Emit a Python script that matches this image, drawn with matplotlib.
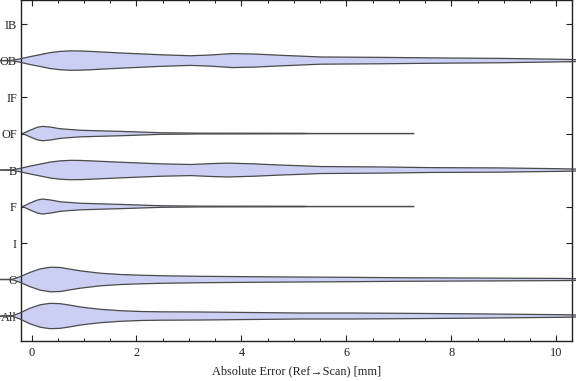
import matplotlib
matplotlib.use("Agg")
import matplotlib.pyplot as plt
from matplotlib.ticker import MultipleLocator

plt.rcParams['font.family'] = ['Liberation Serif', 'DejaVu Serif']

# category order from bottom to top
categories = ["All", "O", "I", "F", "B", "OF", "IF", "OB", "IB"]

# violin outlines: error values [mm] and half widths (in category spacing units)
ob_x = [-0.59, -0.36, -0.21, -0.02, 0.17, 0.36, 0.55, 0.74, 0.93, 1.12, 1.70, 2.46,
        3.03, 3.41, 3.83, 4.27, 4.74, 5.12, 5.5, 6.65, 7.6, 8.93, 10.08, 10.84]
ob_w = [0, 0.008, 0.049, 0.11, 0.164, 0.219, 0.252, 0.266, 0.263, 0.252, 0.208, 0.159,
        0.132, 0.153, 0.192, 0.178, 0.145, 0.123, 0.099, 0.088, 0.074, 0.06, 0.036, 0.014]

b_x = [-0.59, -0.36, -0.21, -0.02, 0.17, 0.36, 0.55, 0.74, 0.93, 1.12, 1.70, 2.46,
       3.03, 3.41, 3.75, 4.27, 4.74, 5.12, 5.5, 6.65, 7.6, 8.93, 10.08, 10.84]
b_w = [0, 0.008, 0.049, 0.11, 0.164, 0.219, 0.252, 0.266, 0.263, 0.252, 0.214, 0.17,
       0.152, 0.176, 0.19, 0.168, 0.137, 0.118, 0.096, 0.085, 0.066, 0.058, 0.036, 0.014]

of_x = [-0.17, -0.02, 0.11, 0.21, 0.36, 0.55, 0.93, 1.70, 2.46, 3.22, 5.18, 5.31, 7.28]
of_w = [0, 0.096, 0.173, 0.197, 0.178, 0.131, 0.09, 0.06, 0.022, 0.011, 0.008, 0.001, 0.001]

f_x = [-0.17, -0.02, 0.11, 0.21, 0.36, 0.55, 0.93, 1.70, 2.46, 3.22, 5.18, 5.31, 7.28]
f_w = [0, 0.1, 0.178, 0.205, 0.18, 0.13, 0.09, 0.058, 0.022, 0.011, 0.008, 0.001, 0.001]

o_x = [-0.59, -0.36, -0.21, -0.02, 0.17, 0.36, 0.55, 0.74, 0.93, 1.31, 1.70, 2.08,
       2.46, 3.22, 4.17, 5.12, 6.08, 7.03, 8.36, 10.08, 10.84]
o_w = [0, 0.008, 0.082, 0.2, 0.293, 0.337, 0.329, 0.282, 0.238, 0.173, 0.137, 0.118,
       0.104, 0.088, 0.077, 0.068, 0.06, 0.049, 0.041, 0.03, 0.016]

all_x = [-0.59, -0.36, -0.21, -0.02, 0.17, 0.36, 0.55, 0.74, 0.93, 1.31, 1.70, 2.08,
         2.46, 3.22, 4.17, 5.12, 6.08, 7.03, 8.36, 10.08, 10.84]
all_w = [0, 0.008, 0.09, 0.219, 0.31, 0.348, 0.337, 0.296, 0.247, 0.184, 0.145, 0.123,
         0.115, 0.11, 0.096, 0.082, 0.082, 0.074, 0.06, 0.036, 0.016]

# IB, IF and I have no data
violins = {
    "OB": (ob_x, ob_w),
    "B": (b_x, b_w),
    "OF": (of_x, of_w),
    "F": (f_x, f_w),
    "O": (o_x, o_w),
    "All": (all_x, all_w),
}

FILL = "#cacff3"
EDGE = "#4a4a4a"

fig = plt.figure(figsize=(5.76, 3.81), dpi=100)
ax = fig.add_axes([20.5 / 576, 40 / 381, 551.5 / 576, 341 / 381])

for name, (xs, ws) in violins.items():
    yc = categories.index(name)
    lo = [yc - w for w in ws]
    hi = [yc + w for w in ws]
    ax.fill_between(xs, lo, hi, facecolor=FILL, edgecolor="none", clip_on=False, zorder=2)
    ax.plot(xs, hi, color=EDGE, lw=0.9, clip_on=False, zorder=3)
    ax.plot(xs, lo, color=EDGE, lw=0.9, clip_on=False, zorder=3)

ax.set_xlim(-0.21, 10.3)
ax.set_ylim(-0.685, 8.66)
ax.set_yticks(range(len(categories)))
ax.set_yticklabels(categories)
ax.xaxis.set_major_locator(MultipleLocator(2))
ax.xaxis.set_minor_locator(MultipleLocator(0.5))
ax.tick_params(axis="both", which="major", direction="in", length=4, width=0.8,
               top=True, right=True, labelsize=8.8, colors="#222222", pad=4)
ax.tick_params(axis="x", which="minor", direction="in", length=2.5, width=0.6, top=True)
ax.tick_params(axis="y", which="major", pad=2.5)
for s in ax.spines.values():
    s.set_linewidth(1.0)
    s.set_color("#222222")

ax.set_xlabel("Absolute Error (Ref\u2192Scan) [mm]", fontsize=8.8, color="#222222", labelpad=5)

fig.savefig("out.png", dpi=100)
